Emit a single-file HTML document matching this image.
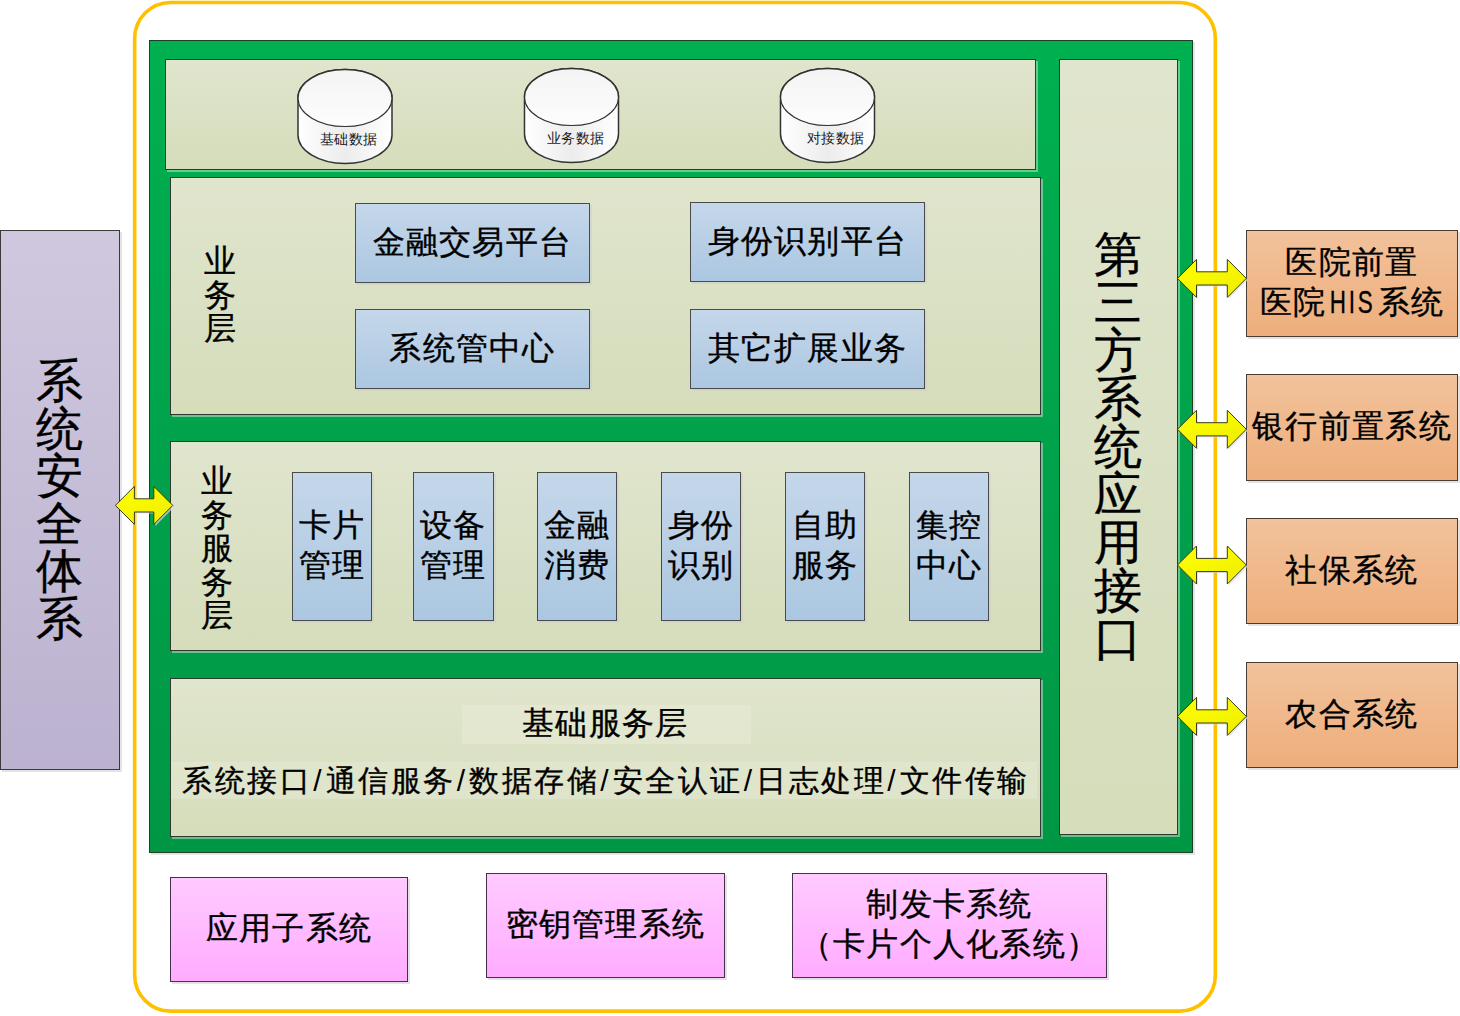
<!DOCTYPE html>
<html>
<head>
<meta charset="utf-8">
<style>
*{box-sizing:border-box;margin:0;padding:0}
html,body{width:1460px;height:1016px;overflow:hidden;background:#fff}
body{position:relative;text-spacing-trim:space-all;-webkit-text-stroke:0.35px #000;font-family:"Liberation Sans",sans-serif;color:#000}
.a{position:absolute}
.green{left:149px;top:40px;width:1044px;height:813px;border:1px solid #1d3f28;
  background:linear-gradient(#00B050,#00A04A 60%,#009744);box-shadow:2px 2px 0 rgba(200,200,210,.5)}
.panel{border:1px solid #2e3a30;background:linear-gradient(#E0E5CD,#D5DDBB);box-shadow:2px 2px 0 rgba(230,240,230,.45)}
.blue{border:1px solid #4a4a4a;background:linear-gradient(#C5D7EA,#ABC7E1);box-shadow:2px 2px 0 rgba(200,200,200,.4);
  display:flex;align-items:center;justify-content:center;text-align:center;font-size:32px;line-height:40px;letter-spacing:1.3px}
.purple{border:1px solid #3a3a3a;background:linear-gradient(#CFC8DE,#BCB2D0);box-shadow:2px 2px 0 rgba(200,200,200,.5)}
.org{border:1px solid #4a3d33;background:linear-gradient(#F2C29B,#EEAE7C);box-shadow:2px 2px 0 rgba(200,200,200,.5);
  display:flex;align-items:center;justify-content:center;text-align:center;font-size:32px;line-height:40px;letter-spacing:1.3px}
.pink{border:1px solid #45304a;background:linear-gradient(#FFCAFF,#FFACFF);box-shadow:2px 2px 0 rgba(200,200,200,.5);
  display:flex;align-items:center;justify-content:center;text-align:center;font-size:32px;line-height:40px;letter-spacing:1.3px}
.vt{text-align:center}
.blue>div,.pink>div,.org>div{position:relative;top:-1.5px}
.sl{font-style:normal;display:inline-block;width:13.5px;text-align:center;-webkit-text-stroke:0}
.mono{display:inline-block;font-family:"Liberation Sans",sans-serif;letter-spacing:4px;transform:scaleX(.7);margin:0 -8px 0 -6px}
.txt{white-space:nowrap;font-size:32px;line-height:40px;letter-spacing:1.3px}
.cl{font-size:13.5px;letter-spacing:.3px;-webkit-text-stroke:0;color:#1a1a1a;line-height:14px;white-space:nowrap}
</style>
</head>
<body>
<svg class="a" style="left:0;top:0" width="1460" height="1016"><rect x="134.65" y="2.55" width="1080.7" height="1008.6" rx="36" ry="36" fill="none" stroke="#FFC000" stroke-width="3.6"/></svg>
<div class="a green"></div>

<!-- data panel -->
<div class="a panel" style="left:165px;top:59px;width:871px;height:111px"></div>
<!-- biz panel -->
<div class="a panel" style="left:170px;top:177px;width:871px;height:238px"></div>
<!-- service panel -->
<div class="a panel" style="left:170px;top:441px;width:871px;height:210px"></div>
<!-- base panel -->
<div class="a panel" style="left:170px;top:678px;width:871px;height:159px"></div>
<!-- third party panel -->
<div class="a panel" style="left:1059px;top:59px;width:119px;height:776px"></div>

<!-- purple -->
<div class="a purple" style="left:0;top:230px;width:120px;height:540px"></div>

<!-- texts -->
<div class="a vt" style="left:36px;top:357px;font-size:47px;line-height:47.5px">系<br>统<br>安<br>全<br>体<br>系</div>
<div class="a vt" style="left:1094px;top:231px;font-size:48px;line-height:48px">第<br>三<br>方<br>系<br>统<br>应<br>用<br>接<br>口</div>
<div class="a vt" style="left:204px;top:245px;font-size:32px;line-height:33.7px">业<br>务<br>层</div>
<div class="a vt" style="left:201px;top:465px;font-size:32px;line-height:33.5px">业<br>务<br>服<br>务<br>层</div>

<!-- biz boxes -->
<div class="a blue" style="left:355px;top:203px;width:235px;height:80px"><div>金融交易平台</div></div>
<div class="a blue" style="left:355px;top:309px;width:235px;height:80px"><div>系统管中心</div></div>
<div class="a blue" style="left:690px;top:202px;width:235px;height:80px"><div>身份识别平台</div></div>
<div class="a blue" style="left:690px;top:309px;width:235px;height:80px"><div>其它扩展业务</div></div>

<!-- service boxes -->
<div class="a blue" style="left:292px;top:472px;width:80px;height:149px"><div>卡片<br>管理</div></div>
<div class="a blue" style="left:413px;top:472px;width:81px;height:149px"><div>设备<br>管理</div></div>
<div class="a blue" style="left:537px;top:472px;width:80px;height:149px"><div>金融<br>消费</div></div>
<div class="a blue" style="left:661px;top:472px;width:80px;height:149px"><div>身份<br>识别</div></div>
<div class="a blue" style="left:785px;top:472px;width:80px;height:149px"><div>自助<br>服务</div></div>
<div class="a blue" style="left:909px;top:472px;width:80px;height:149px"><div>集控<br>中心</div></div>

<!-- base layer text -->
<div class="a" style="left:462px;top:705px;width:289px;height:39px;background:rgba(236,240,222,.38)"></div>
<div class="a txt" style="left:522px;top:703px">基础服务层</div>
<div class="a" style="left:171px;top:762px;width:866px;height:37px;background:rgba(236,240,222,.33)"></div>
<div class="a txt" style="left:182px;top:761px;font-size:30px;letter-spacing:2.5px">系统接口<i class="sl">/</i>通信服务<i class="sl">/</i>数据存储<i class="sl">/</i>安全认证<i class="sl">/</i>日志处理<i class="sl">/</i>文件传输</div>

<!-- right orange boxes -->
<div class="a org" style="left:1246px;top:230px;width:212px;height:107px"><div>医院前置<br>医院<span class="mono">HIS</span>系统</div></div>
<div class="a org" style="left:1246px;top:374px;width:212px;height:107px"><div>银行前置系统</div></div>
<div class="a org" style="left:1246px;top:518px;width:212px;height:106px"><div>社保系统</div></div>
<div class="a org" style="left:1246px;top:662px;width:212px;height:106px"><div>农合系统</div></div>

<!-- pink boxes -->
<div class="a pink" style="left:170px;top:877px;width:238px;height:105px"><div>应用子系统</div></div>
<div class="a pink" style="left:486px;top:873px;width:239px;height:105px"><div>密钥管理系统</div></div>
<div class="a pink" style="left:792px;top:873px;width:315px;height:105px"><div>制发卡系统<br>（卡片个人化系统）</div></div>

<!-- cylinders & arrows -->
<svg class="a" style="left:0;top:0" width="1460" height="1016" viewBox="0 0 1460 1016">
<defs>
<linearGradient id="cg" x1="0" y1="0" x2="1" y2="0">
<stop offset="0" stop-color="#ffffff"/><stop offset="0.5" stop-color="#ececec"/><stop offset="1" stop-color="#ffffff"/>
</linearGradient>
<linearGradient id="ct" x1="0" y1="0" x2="0" y2="1">
<stop offset="0" stop-color="#f4f4f4"/><stop offset="1" stop-color="#fdfdfd"/>
</linearGradient>
<linearGradient id="ag" x1="0" y1="0" x2="1" y2="1">
<stop offset="0" stop-color="#ffff00"/><stop offset="1" stop-color="#eeee00"/>
</linearGradient>
<g id="cyl">
<path d="M0,29 A47,28.5 0 0 1 94,29 L94,66 A47,28.5 0 0 1 0,66 Z" fill="url(#cg)" stroke="#333" stroke-width="1.5"/>
<ellipse cx="47" cy="29" rx="47" ry="28.5" fill="url(#ct)"/>
<path d="M0,29 A47,28.5 0 0 0 94,29" fill="none" stroke="#333" stroke-width="1.2"/>
<path d="M0,29 A47,28.5 0 0 1 94,29" fill="none" stroke="#333" stroke-width="1.5"/>
</g>
</defs>
<use href="#cyl" x="298" y="69"/>
<use href="#cyl" x="524.5" y="68"/>
<use href="#cyl" x="780.5" y="68"/>
<path d="M115.4,505.4 L134.4,486.4 L134.4,498.8 L153.8,498.8 L153.8,486.4 L172.8,505.4 L153.8,524.4 L153.8,512.0 L134.4,512.0 L134.4,524.4 Z" fill="#d8d8ee" opacity=".7" transform="translate(1.5,1.5)"/>
<path d="M115.4,505.4 L134.4,486.4 L134.4,498.8 L153.8,498.8 L153.8,486.4 L172.8,505.4 L153.8,524.4 L153.8,512.0 L134.4,512.0 L134.4,524.4 Z" fill="url(#ag)" stroke="#3b3b14" stroke-width="1"/>
<path d="M1177.5,278.4 L1196.5,259.4 L1196.5,271.8 L1227.3,271.8 L1227.3,259.4 L1246.3,278.4 L1227.3,297.4 L1227.3,285.0 L1196.5,285.0 L1196.5,297.4 Z" fill="#d8d8ee" opacity=".7" transform="translate(1.5,1.5)"/>
<path d="M1177.5,278.4 L1196.5,259.4 L1196.5,271.8 L1227.3,271.8 L1227.3,259.4 L1246.3,278.4 L1227.3,297.4 L1227.3,285.0 L1196.5,285.0 L1196.5,297.4 Z" fill="url(#ag)" stroke="#3b3b14" stroke-width="1"/>
<path d="M1177.5,429.3 L1196.5,410.3 L1196.5,422.7 L1227.3,422.7 L1227.3,410.3 L1246.3,429.3 L1227.3,448.3 L1227.3,435.9 L1196.5,435.9 L1196.5,448.3 Z" fill="#d8d8ee" opacity=".7" transform="translate(1.5,1.5)"/>
<path d="M1177.5,429.3 L1196.5,410.3 L1196.5,422.7 L1227.3,422.7 L1227.3,410.3 L1246.3,429.3 L1227.3,448.3 L1227.3,435.9 L1196.5,435.9 L1196.5,448.3 Z" fill="url(#ag)" stroke="#3b3b14" stroke-width="1"/>
<path d="M1177.5,565 L1196.5,546 L1196.5,558.4 L1227.3,558.4 L1227.3,546 L1246.3,565 L1227.3,584 L1227.3,571.6 L1196.5,571.6 L1196.5,584 Z" fill="#d8d8ee" opacity=".7" transform="translate(1.5,1.5)"/>
<path d="M1177.5,565 L1196.5,546 L1196.5,558.4 L1227.3,558.4 L1227.3,546 L1246.3,565 L1227.3,584 L1227.3,571.6 L1196.5,571.6 L1196.5,584 Z" fill="url(#ag)" stroke="#3b3b14" stroke-width="1"/>
<path d="M1177.5,716.4 L1196.5,697.4 L1196.5,709.8 L1227.3,709.8 L1227.3,697.4 L1246.3,716.4 L1227.3,735.4 L1227.3,723.0 L1196.5,723.0 L1196.5,735.4 Z" fill="#d8d8ee" opacity=".7" transform="translate(1.5,1.5)"/>
<path d="M1177.5,716.4 L1196.5,697.4 L1196.5,709.8 L1227.3,709.8 L1227.3,697.4 L1246.3,716.4 L1227.3,735.4 L1227.3,723.0 L1196.5,723.0 L1196.5,735.4 Z" fill="url(#ag)" stroke="#3b3b14" stroke-width="1"/>
</svg>
<div class="a cl" style="left:320px;top:133px">基础数据</div>
<div class="a cl" style="left:547px;top:132px">业务数据</div>
<div class="a cl" style="left:807px;top:132px">对接数据</div>
</body>
</html>
